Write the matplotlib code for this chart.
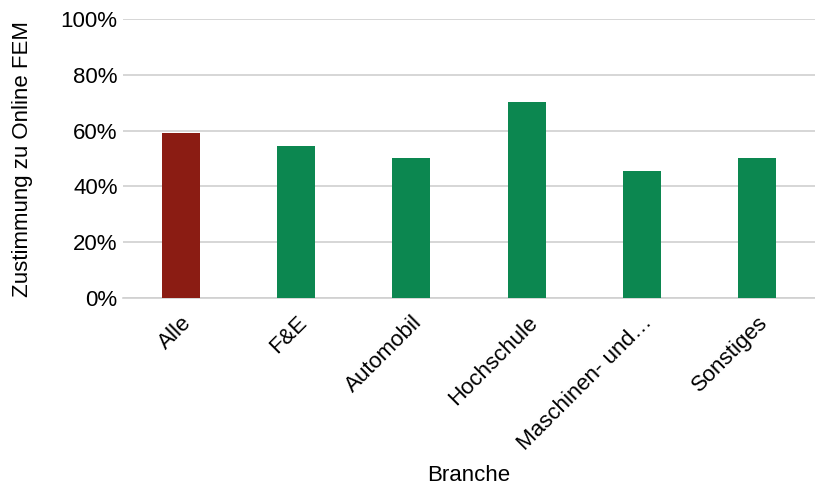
import matplotlib.pyplot as plt
from matplotlib.ticker import PercentFormatter

plt.rcParams['font.family'] = ['Liberation Sans', 'DejaVu Sans']

categories = ['Alle', 'F&E', 'Automobil', 'Hochschule', 'Maschinen- und…', 'Sonstiges']
values = [59.1, 54.6, 50.2, 70.2, 45.6, 50.2]
colors = ['#8B1C13', '#0C8750', '#0C8750', '#0C8750', '#0C8750', '#0C8750']

fig = plt.figure(figsize=(8.15, 4.87), dpi=100)
ax = fig.add_axes([0.151, 0.388, 0.849, 0.573])

x = range(len(categories))
ax.bar(x, values, width=0.33, color=colors, zorder=3)

ax.set_xlim(-0.5, len(categories) - 0.5)
ax.set_ylim(0, 100)
ax.set_yticks(range(0, 101, 20))
ax.yaxis.set_major_formatter(PercentFormatter(decimals=0))
ax.grid(axis='y', color='#d0d0d0', linewidth=1.2, zorder=0)

ax.set_xticks(list(x))
ax.set_xticklabels(categories, rotation=45, ha='right', rotation_mode='anchor')
ax.tick_params(axis='both', length=0, labelsize=16, colors='#000000')
ax.tick_params(axis='x', pad=10)
ax.tick_params(axis='y', pad=4)

for s in ['top', 'right', 'left']:
    ax.spines[s].set_visible(False)
ax.spines['bottom'].set_color('#d0d0d0')
ax.spines['bottom'].set_linewidth(1.2)

ax.set_ylabel('Zustimmung zu Online FEM', fontsize=16, labelpad=20)
ax.set_xlabel('Branche', fontsize=16)
ax.xaxis.set_label_coords(0.5, -0.6)

fig.savefig('out.png', dpi=100)
